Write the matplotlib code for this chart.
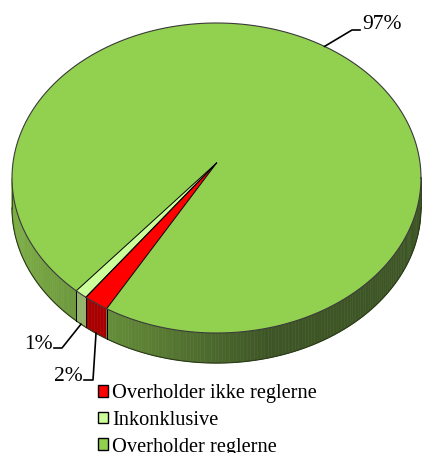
import numpy as np
import matplotlib
matplotlib.use('Agg')
import matplotlib.pyplot as plt
from matplotlib.patches import Polygon, Patch
from matplotlib.colors import to_rgb

# data
labels = ['Overholder ikke reglerne', 'Inkonklusive', 'Overholder reglerne']
values = [2, 1, 97]
pct_text = ['2%', '1%', '97%']
top_colors = ['#FF0000', '#CCFF99', '#92D050']
side_colors = ['#A80000', '#93B46A', None]   # None -> shaded green

# pie geometry (units: horizontal radius = 1)
START = 237.5          # first slice starts here, goes clockwise
RX, RY, DEPTH = 1.0, 0.758, 0.147
APEX = (0.0, 0.073)
W, H = 422, 453
CX, CY, SC = 216.5, 178.0, 204.5


def P(px, py):
    # pixel position -> data units (layout helper)
    return (px - CX) / SC, (CY - py) / SC


def rim(t, down=0.0):
    r = np.radians(t)
    return RX * np.cos(r), RY * np.sin(r) - down


def side_shade(x):
    light = np.array(to_rgb('#7DAE45'))
    dark = np.array(to_rgb('#3E5626'))
    f = np.clip((x + 1.0) / 1.25, 0, 1)
    return tuple(light * (1 - f) + dark * f)


fig = plt.figure(figsize=(W / 100, H / 100), dpi=100)
ax = fig.add_axes([0, 0, 1, 1])
ax.set_xlim(P(0, 0)[0], P(W, 0)[0])
ax.set_ylim(P(0, H)[1], P(0, 0)[1])
ax.axis('off')

# slice angles
bounds = []
hi = START
for v in values:
    lo = hi - v * 3.6
    bounds.append((lo, hi))
    hi = lo

# side walls (front half only)
for (lo, hi), sc in zip(bounds, side_colors):
    for k in (-1, 0, 1):
        a0 = max(lo, 180 + 360 * k)
        a1 = min(hi, 360 + 360 * k)
        if a1 <= a0:
            continue
        n = max(2, int((a1 - a0) / 1.0) + 1)
        ts = np.linspace(a0, a1, n)
        for ta, tb in zip(ts[:-1], ts[1:]):
            pts = [rim(ta), rim(tb), rim(tb, DEPTH), rim(ta, DEPTH)]
            c = sc if sc else side_shade(rim((ta + tb) / 2)[0])
            ax.add_patch(Polygon(pts, closed=True, facecolor=c, edgecolor=c,
                                 linewidth=0.4, zorder=2))

# side outline
ts = np.linspace(180, 360, 200)
bx, by = zip(*[rim(t, DEPTH) for t in ts])
ax.plot(bx, by, color='#2a3a18', lw=0.8, zorder=3)
for t in (180, 360):
    x0, y0 = rim(t)
    ax.plot([x0, x0], [y0, y0 - DEPTH], color='#2a3a18', lw=0.6, zorder=3)
for lo, hi in bounds:
    for t in (lo, hi):
        tt = t % 360
        if 180 < tt < 360:
            x0, y0 = rim(tt)
            ax.plot([x0, x0], [y0, y0 - DEPTH], color='black', lw=0.7, zorder=3)

# top faces
for (lo, hi), c in zip(bounds, top_colors):
    n = max(3, int((hi - lo) / 0.5))
    arc = [rim(t) for t in np.linspace(hi, lo, n)]
    ax.add_patch(Polygon([APEX] + arc, closed=True, facecolor=c,
                         edgecolor='none', zorder=4))
for lo, hi in bounds[:2]:
    for t in (lo, hi):
        x0, y0 = rim(t)
        ax.plot([APEX[0], x0], [APEX[1], y0], color='black', lw=0.7, zorder=5)
ts = np.linspace(0, 360, 400)
ex, ey = zip(*[rim(t) for t in ts])
ax.plot(ex, ey, color='#3a3a3a', lw=0.8, zorder=5)

# data labels with leader lines
mids = [(lo + hi) / 2 for lo, hi in bounds]
label_layout = [
    # anchor on side bottom / top rim, elbow, line end, text pos, ha
    dict(anchor=rim(mids[0], DEPTH), elbow=P(93, 380), end=P(84, 380), txt=P(83, 381), ha='right'),
    dict(anchor=rim(mids[1], DEPTH), elbow=P(62, 348), end=P(54, 348), txt=P(53, 349), ha='right'),
    dict(anchor=rim(mids[2] + 6), elbow=P(352, 30), end=P(360, 30), txt=P(362, 29), ha='left'),
]
for lay, s in zip(label_layout, pct_text):
    xs = [lay['anchor'][0], lay['elbow'][0], lay['end'][0]]
    ys = [lay['anchor'][1], lay['elbow'][1], lay['end'][1]]
    ax.plot(xs, ys, color='black', lw=1.2, zorder=6)
    ax.text(lay['txt'][0], lay['txt'][1], s, ha=lay['ha'], va='baseline',
            fontsize=15.5, family='Liberation Serif', zorder=6)

# legend
handles = [Patch(facecolor=c, edgecolor='black', linewidth=1.0) for c in top_colors]
fig.legend(handles, labels, loc='upper left', bbox_to_anchor=(98 / W, 1 - 384 / H),
           frameon=False, borderpad=0, borderaxespad=0, handlelength=0.5,
           handleheight=0.5, handletextpad=0.2, labelspacing=0.38,
           prop={'family': 'Liberation Serif', 'size': 14.7})

fig.savefig('out.png', dpi=100)
